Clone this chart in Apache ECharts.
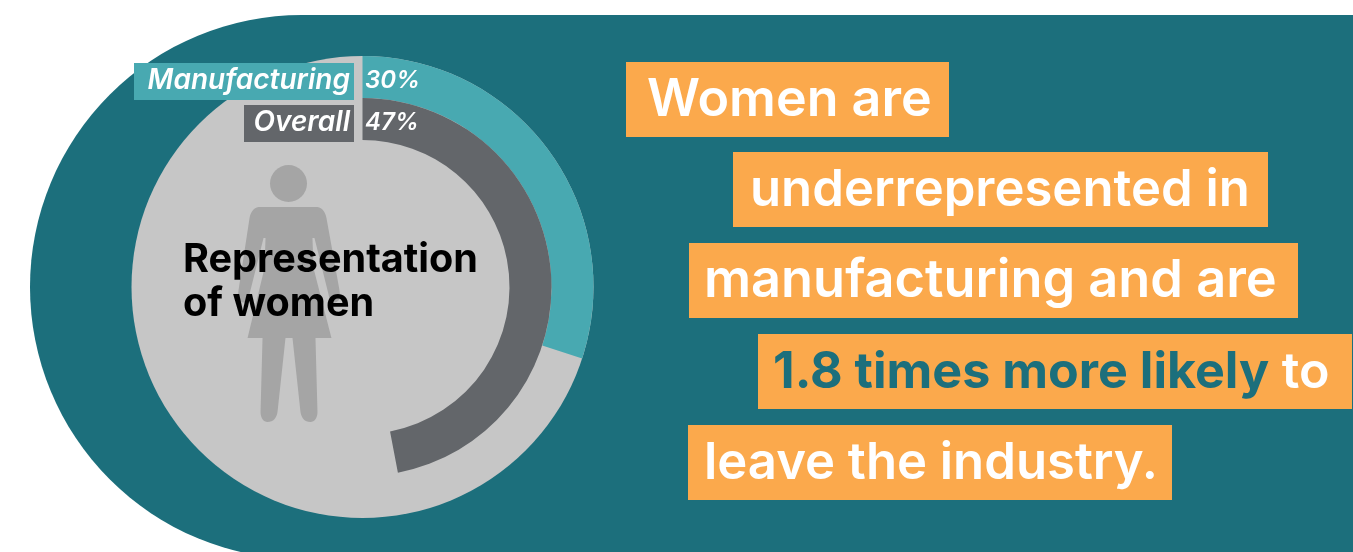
<!DOCTYPE html>
<html>
<head>
<meta charset="utf-8">
<style>html,body{margin:0;padding:0;background:#fff}#chart{width:1353px;height:552px}</style>
<script src="https://cdn.jsdelivr.net/npm/echarts@6/dist/echarts.min.js"></script>
</head>
<body>
<div id="chart"></div>
<script>
// Share of women in each workforce, percent
const groups = ['Manufacturing', 'Overall'];
const shares = [30, 47];
const groupColors = ['#48A9B1', '#63666A'];
const ringRadii = [[189, 231], [147, 189]];
const labelBoxes = [[134, 63, 220, 37], [244, 105, 110, 37]];
const labelCentres = [81, 123];

const centerTitle = ['Representation', 'of women'];

// Call-out lines on the right: text runs, box, text origin and type size
const calloutRuns = [
  [['Women are', 'w']],
  [['underrepresented in', 'w']],
  [['manufacturing and are', 'w']],
  [['1.8 times more likely', 't'], [' to', 'w']],
  [['leave the industry.', 'w']]
];
const calloutBoxes = [
  [626, 62, 323, 75],
  [733, 152, 535, 75],
  [689, 243, 609, 75],
  [758, 334, 594, 75],
  [688, 425, 484, 75]
];
const calloutTextX = [647, 750, 704, 773, 704];
const calloutSizes = [52, 50.8, 52.3, 50.2, 50.8];

const TEAL = '#1C6F7C', ORANGE = '#FBA94C', DISC = '#C6C6C6', FIGURE = '#A5A5A5';
const CX = 362.5, CY = 287, DISC_R = 231;
const FONT = 'Inter, "Noto Sans", sans-serif';

const figurePath =
  'M258 207 C253 208 250 212 249 218 L238 290 C237 297 237 300 241 302 C246 304 248 300 249 294 ' +
  'L263 238 L265 238 L264 268 L247 338 L262 338 L260 412 C260 418 263 422 267 422 C273 422 276 418 277 412 ' +
  'L285 338 L292 338 L300 412 C301 418 304 422 310 422 C314 422 317 418 317 412 L315 338 L331 338 ' +
  'L313 268 L312 238 L314 238 L328 294 C329 300 331 304 336 302 C340 300 340 297 339 290 L326 218 ' +
  'C325 212 322 208 317 207 Z';

const graphics = [
  { type: 'rect', z: -3, silent: true, shape: { x: 30, y: 15, width: 1400, height: 544, r: [272, 0, 0, 272] }, style: { fill: TEAL } },
  { type: 'circle', z: -2, silent: true, shape: { cx: CX, cy: CY, r: DISC_R }, style: { fill: DISC } },
  { type: 'circle', z: 3, silent: true, shape: { cx: 288.5, cy: 183.5, r: 18.5 }, style: { fill: FIGURE } }
];

groups.forEach((name, i) => {
  const [x, y, w, h] = labelBoxes[i];
  graphics.push({ type: 'rect', z: 5, silent: true, shape: { x, y, width: w, height: h }, style: { fill: groupColors[i] } });
  graphics.push({ type: 'text', z: 6, silent: true, style: {
    text: name, x: 350, y: labelCentres[i], align: 'right', verticalAlign: 'middle',
    fill: '#fff', font: `italic 600 28px ${FONT}` } });
  graphics.push({ type: 'text', z: 6, silent: true, style: {
    text: shares[i] + '%', x: 365, y: labelCentres[i], align: 'left', verticalAlign: 'middle',
    fill: '#fff', font: `italic 600 24px ${FONT}` } });
});

centerTitle.forEach((line, i) => {
  graphics.push({ type: 'text', z: 7, silent: true, style: {
    text: line, x: 183, y: 260 + i * 44, align: 'left', verticalAlign: 'middle',
    fill: '#000', font: `700 39.6px ${FONT}` } });
});

calloutRuns.forEach((runs, i) => {
  const [x, y, w, h] = calloutBoxes[i];
  graphics.push({ type: 'rect', z: 5, silent: true, shape: { x, y, width: w, height: h }, style: { fill: ORANGE } });
  graphics.push({ type: 'text', z: 6, silent: true, style: {
    text: runs.map(r => `{${r[1]}|${r[0]}}`).join(''),
    x: calloutTextX[i], y: y + h / 2 + 1, align: 'left', verticalAlign: 'middle',
    rich: {
      w: { fill: '#fff', font: `600 ${calloutSizes[i]}px ${FONT}` },
      t: { fill: TEAL, font: `700 ${calloutSizes[i]}px ${FONT}` }
    } } });
});

const ringSeries = groups.map((name, i) => ({
  type: 'pie',
  name,
  center: [CX, CY],
  radius: ringRadii[i],
  startAngle: 90,
  clockwise: true,
  silent: true,
  label: { show: false },
  labelLine: { show: false },
  data: [
    { value: shares[i], name, itemStyle: { color: groupColors[i] } },
    { value: 100 - shares[i], name: 'Other', itemStyle: { color: 'transparent' } }
  ]
}));

// Body of the figure, behind the centre title
const figureSeries = {
  type: 'custom',
  coordinateSystem: 'none',
  silent: true,
  z: 3,
  data: [[0]],
  renderItem: () => ({
    type: 'path',
    shape: { pathData: figurePath, layout: 'cover', x: 238, y: 207, width: 102, height: 215 },
    style: { fill: FIGURE }
  })
};

const chart = echarts.init(document.getElementById('chart'), null, { renderer: 'canvas' });
chart.setOption({
  backgroundColor: '#fff',
  animation: false,
  graphic: { elements: graphics },
  series: ringSeries.concat(figureSeries)
});
</script>
</body>
</html>
